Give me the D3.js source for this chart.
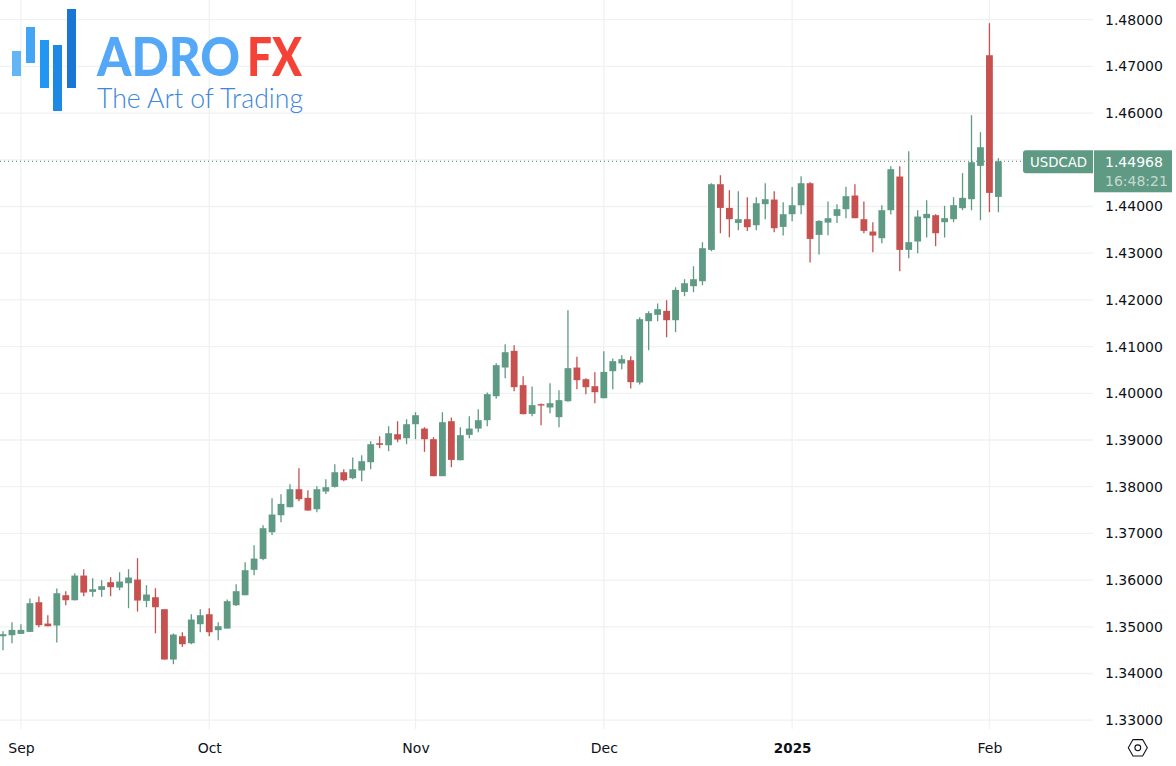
<!DOCTYPE html>
<html>
<head>
<meta charset="utf-8">
<script src="https://cdn.jsdelivr.net/npm/d3@7/dist/d3.min.js"></script>
<style>
html, body { margin: 0; padding: 0; background: #fff; }
svg { display: block; }
.domain { display: none; }
text { font-family: "DejaVu Sans", sans-serif; }
</style>
</head>
<body>
<svg></svg>
<script>
var opens = [1.34798,1.34820,1.34848,1.34891,1.35526,1.35069,1.35027,1.35676,1.35569,1.36097,
1.35748,1.35790,1.35955,1.35840,1.35933,1.36012,1.35555,1.35633,1.35376,1.34299,
1.34798,1.34648,1.35055,1.35269,1.34927,1.34962,1.35462,1.35676,1.36219,1.36454,
1.37025,1.37389,1.37561,1.37946,1.37761,1.37518,1.37896,1.37996,1.38310,1.38182,
1.38346,1.38524,1.38931,1.38888,1.39124,1.39038,1.39338,1.39245,1.39017,1.38225,
1.39402,1.38567,1.39110,1.39245,1.39424,1.39938,1.40552,1.40909,1.40174,1.39560,
1.39767,1.39696,1.39489,1.39831,1.40552,1.40302,1.40152,1.39895,1.40474,1.40638,
1.40709,1.40231,1.41544,1.41680,1.41765,1.41565,1.42171,1.42293,1.42400,1.43071,
1.44477,1.43970,1.43649,1.43728,1.43599,1.44049,1.44149,1.43563,1.43835,1.44027,
1.44498,1.43392,1.43656,1.43799,1.43942,1.44235,1.43728,1.43464,1.43321,1.43921,
1.44642,1.43071,1.43250,1.43750,1.43814,1.43664,1.43728,1.43964,1.44156,1.44870,
1.47239,1.44206];
var highs = [1.34905,1.35098,1.35055,1.35605,1.35648,1.35248,1.35819,1.35762,1.36147,1.36233,
1.36040,1.35997,1.36062,1.36169,1.36233,1.36469,1.35890,1.35826,1.35376,1.34855,
1.34884,1.35269,1.35376,1.35398,1.35098,1.35583,1.35912,1.36383,1.36747,1.37175,
1.37753,1.37839,1.38053,1.38396,1.37925,1.38010,1.38160,1.38481,1.38374,1.38624,
1.38674,1.38974,1.39081,1.39295,1.39402,1.39445,1.39595,1.39274,1.39060,1.39595,
1.39481,1.39274,1.39509,1.39659,1.40017,1.40645,1.41052,1.41030,1.40367,1.40145,
1.39781,1.40217,1.40067,1.41780,1.40781,1.40324,1.40452,1.40902,1.40745,1.40816,
1.40795,1.41630,1.41758,1.41923,1.41993,1.42271,1.42443,1.42721,1.43235,1.44498,
1.44670,1.44349,1.44327,1.44199,1.44199,1.44498,1.44327,1.44092,1.44420,1.44648,
1.44520,1.43706,1.44106,1.44049,1.44421,1.44478,1.44106,1.43664,1.44028,1.44863,
1.44863,1.45184,1.43921,1.44135,1.43835,1.44014,1.44199,1.44713,1.45955,1.45591,
1.47925,1.45034];
var lows = [1.34498,1.34648,1.34848,1.34891,1.34991,1.35012,1.34663,1.35462,1.35562,1.35655,
1.35641,1.35641,1.35655,1.35783,1.35398,1.35326,1.35419,1.34862,1.34299,1.34199,
1.34570,1.34627,1.34884,1.34798,1.34713,1.34962,1.35448,1.35676,1.36105,1.36426,
1.36968,1.37239,1.37561,1.37689,1.37489,1.37454,1.37846,1.37982,1.38117,1.38160,
1.38117,1.38374,1.38824,1.38760,1.38953,1.38910,1.39017,1.38746,1.38225,1.38225,
1.38417,1.38567,1.39038,1.39167,1.39296,1.39881,1.40324,1.40045,1.39553,1.39510,
1.39317,1.39574,1.39274,1.39817,1.40088,1.39981,1.39788,1.39895,1.40088,1.40516,
1.40102,1.40188,1.40923,1.41544,1.41201,1.41308,1.42079,1.42164,1.42314,1.43042,
1.43428,1.43342,1.43492,1.43478,1.43492,1.43728,1.43449,1.43378,1.43685,1.43835,
1.42800,1.42971,1.43385,1.43649,1.43750,1.43750,1.43428,1.43021,1.43214,1.43828,
1.42615,1.42893,1.43000,1.43336,1.43150,1.43336,1.43664,1.43921,1.43920,1.43706,
1.43877,1.43877];
var closes = [1.34841,1.34934,1.34934,1.35505,1.35034,1.35012,1.35719,1.35569,1.36097,1.35733,
1.35805,1.35869,1.35848,1.35969,1.36055,1.35562,1.35691,1.35419,1.34299,1.34834,
1.34627,1.35155,1.35248,1.34884,1.35012,1.35548,1.35762,1.36212,1.36461,1.37111,
1.37404,1.37632,1.37946,1.37732,1.37489,1.37946,1.37989,1.38310,1.38139,1.38374,
1.38546,1.38910,1.38896,1.39145,1.39010,1.39338,1.39531,1.39017,1.38225,1.39381,
1.38574,1.39103,1.39245,1.39424,1.39981,1.40602,1.40880,1.40131,1.39553,1.39746,
1.39738,1.39788,1.39853,1.40538,1.40281,1.40131,1.40024,1.40459,1.40688,1.40731,
1.40238,1.41587,1.41716,1.41801,1.41565,1.42214,1.42357,1.42443,1.43107,1.44477,
1.43970,1.43728,1.43728,1.43556,1.44070,1.44156,1.43535,1.43835,1.44027,1.44498,
1.43306,1.43692,1.43749,1.43942,1.44221,1.43750,1.43478,1.43378,1.43921,1.44799,
1.43071,1.43236,1.43785,1.43842,1.43428,1.43750,1.44028,1.44185,1.44948,1.45269,
1.44291,1.44968];

var gridPrices = [1.33,1.34,1.35,1.36,1.37,1.38,1.39,1.40,1.41,1.42,1.43,1.44,1.45,1.46,1.47,1.48];
// 1.45000 sits behind the last price tag, so it gets a grid line but no label
var priceLabels = [1.33,1.34,1.35,1.36,1.37,1.38,1.39,1.40,1.41,1.42,1.43,1.44,1.46,1.47,1.48];
var monthTicks = [2,23,46,67,88,110];
var monthLabels = ["Sep","Oct","Nov","Dec","2025","Feb"];
var lastPrice = 1.44968;
var symbol = "USDCAD";
var countdown = "16:48:21";

var screen = {width: 1176, height: 766};
var plotRight = 1093;
var plotBottom = 729;
var upColor = "#5f9a84";
var downColor = "#c6514f";
var gridColor = "#f0f1f3";
var textColor = "#0e1118";

var svg = d3.select("svg").attr("width", screen.width).attr("height", screen.height);

var xScale = d3.scaleLinear().domain([0, opens.length - 1]).range([3, 998.4]);
var yScale = d3.scaleLinear().domain([1.33, 1.48]).range([720.2, 19.7]);

// grid
svg.append("g").selectAll("line").data(gridPrices).enter().append("line")
    .attr("x1", 0).attr("x2", plotRight)
    .attr("y1", function (d) { return yScale(d); })
    .attr("y2", function (d) { return yScale(d); })
    .attr("stroke", gridColor).attr("stroke-width", 1.3);

svg.append("g").selectAll("line").data(monthTicks).enter().append("line")
    .attr("x1", function (d) { return xScale(d); })
    .attr("x2", function (d) { return xScale(d); })
    .attr("y1", 0).attr("y2", plotBottom)
    .attr("stroke", gridColor).attr("stroke-width", 1.3);

// last price line
svg.append("line")
    .attr("x1", 0).attr("x2", 1024)
    .attr("y1", yScale(lastPrice)).attr("y2", yScale(lastPrice))
    .attr("stroke", "#4f8371").attr("stroke-width", 1)
    .attr("stroke-dasharray", "1 3");

// candles
var candles = svg.append("g").selectAll("g").data(d3.range(opens.length)).enter().append("g");
var candleColor = function (i) { return closes[i] >= opens[i] ? upColor : downColor; };

candles.append("line")
    .attr("x1", function (i) { return xScale(i); })
    .attr("x2", function (i) { return xScale(i); })
    .attr("y1", function (i) { return yScale(highs[i]); })
    .attr("y2", function (i) { return yScale(lows[i]); })
    .attr("stroke", candleColor).attr("stroke-width", 1.3);

candles.append("rect")
    .attr("x", function (i) { return xScale(i) - 3.4; })
    .attr("width", 6.8)
    .attr("y", function (i) { return yScale(Math.max(opens[i], closes[i])); })
    .attr("height", function (i) { return Math.max(1.2, Math.abs(yScale(opens[i]) - yScale(closes[i]))); })
    .attr("fill", candleColor);

// axes
var yAxis = d3.axisRight(yScale).tickValues(priceLabels).tickSize(0).tickPadding(0)
    .tickFormat(d3.format(".5f"));
var yAxisG = svg.append("g").attr("transform", "translate(1105,0)").call(yAxis);
yAxisG.selectAll("text").attr("font-size", 14).attr("fill", textColor)
    .style("font-family", "'DejaVu Sans', sans-serif");

var xAxis = d3.axisBottom(xScale).tickValues(monthTicks).tickSize(0).tickPadding(0)
    .tickFormat(function (d, i) { return monthLabels[i]; });
var xAxisG = svg.append("g").attr("transform", "translate(0,743)").call(xAxis);
xAxisG.selectAll("text").attr("font-size", 14).attr("fill", textColor)
    .style("font-family", "'DejaVu Sans', sans-serif")
    .attr("font-weight", function (d, i) { return monthLabels[i] === "2025" ? "bold" : "normal"; })
    .attr("font-size", function (d, i) { return monthLabels[i] === "2025" ? 13.5 : 14; });

// price labels
var tagY = yScale(lastPrice);
svg.append("path")
    .attr("d", "M1093," + (tagY - 11) + "H1026a3,3 0 0 0 -3,3V" + (tagY + 9) + "a3,3 0 0 0 3,3H1093Z")
    .attr("fill", upColor);
svg.append("rect").attr("x", 1094).attr("y", tagY - 11).attr("width", 78).attr("height", 42).attr("fill", upColor);
svg.append("text").attr("x", 1030).attr("y", tagY + 6).attr("font-size", 13.3).attr("fill", "#fff").text(symbol);
svg.append("text").attr("x", 1105).attr("y", tagY + 6).attr("font-size", 14).attr("fill", "#fff").text(d3.format(".5f")(lastPrice));
svg.append("text").attr("x", 1105).attr("y", tagY + 25).attr("font-size", 14).attr("fill", "#fff").attr("fill-opacity", 0.65).text(countdown);

// settings icon
var icon = svg.append("g").attr("transform", "translate(1137.8,747.8)").attr("fill", "none")
    .attr("stroke", textColor).attr("stroke-width", 1.1);
icon.append("path").attr("d", "M-9.5,0L-4.8,-8.2H4.8L9.5,0L4.8,8.2H-4.8Z");
icon.append("circle").attr("r", 2.9);

// logo
var logo = svg.append("g");
[[12,51,25,"#64b5f6"],[26,27,36,"#42a5f5"],[40,40,48,"#2196f3"],[53,45,66,"#1e88e5"],[67,9,79,"#1976d2"]].forEach(function (b) {
    logo.append("rect").attr("x", b[0]).attr("y", b[1]).attr("width", 9).attr("height", b[2]).attr("fill", b[3]);
});
logo.append("text").attr("x", 97).attr("y", 76).attr("font-size", 53).attr("font-weight", 900)
    .style("font-family", "Lato, sans-serif").attr("fill", "#54a8f7")
    .attr("textLength", 143).attr("lengthAdjust", "spacingAndGlyphs").text("ADRO");
logo.append("text").attr("x", 247).attr("y", 76).attr("font-size", 53).attr("font-weight", 900)
    .style("font-family", "Lato, sans-serif").attr("fill", "#f44336")
    .attr("textLength", 55).attr("lengthAdjust", "spacingAndGlyphs").text("FX");
logo.append("text").attr("x", 97).attr("y", 108).attr("font-size", 27).attr("font-weight", 300)
    .style("font-family", "Lato, sans-serif").attr("fill", "#3b86de")
    .attr("textLength", 206).attr("lengthAdjust", "spacingAndGlyphs").text("The Art of Trading");
</script>
</body>
</html>
